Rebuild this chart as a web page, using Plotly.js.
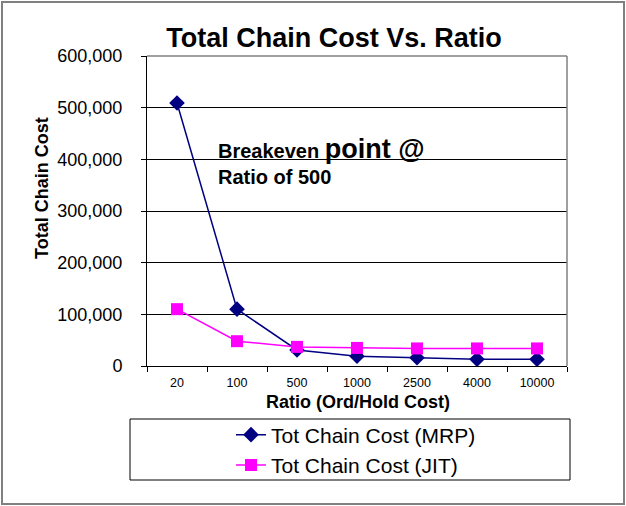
<!DOCTYPE html>
<html>
<head>
<meta charset="utf-8">
<script src="https://cdn.plot.ly/plotly-3.0.1.min.js"></script>
<style>
html,body{margin:0;padding:0;background:#fff;}
#wrap{position:absolute;left:1px;top:1px;width:624px;height:504px;box-sizing:border-box;border:2px solid #808080;}
#chart{position:absolute;left:0;top:0;width:626px;height:506px;}
</style>
</head>
<body>
<div id="chart"></div>
<div id="wrap"></div>
<script>
const categories = ["20", "100", "500", "1000", "2500", "4000", "10000"];
const mrpCost = [509000, 110000, 31000, 19000, 16000, 13000, 13000];
const jitCost = [110000, 48000, 37000, 35000, 34000, 34000, 34000];
const seriesNames = ["Tot Chain Cost (MRP)", "Tot Chain Cost (JIT)"];

const font = "Arial, 'Liberation Sans', sans-serif";

const traces = [
  {
    x: categories, y: mrpCost, name: seriesNames[0], type: "scatter", mode: "lines+markers",
    line: {color: "#000080", width: 1.5},
    marker: {symbol: "diamond", size: 12, color: "#000080"}
  },
  {
    x: categories, y: jitCost, name: seriesNames[1], type: "scatter", mode: "lines+markers",
    line: {color: "#FF00FF", width: 1.5},
    marker: {symbol: "square", size: 12, color: "#FF00FF"}
  }
];

const layout = {
  width: 626, height: 506,
  margin: {l: 147, r: 59, t: 56, b: 140},
  paper_bgcolor: "#fff", plot_bgcolor: "#fff",
  font: {family: font, color: "#000"},
  title: {text: "<b>Total Chain Cost Vs. Ratio</b>", font: {size: 27, family: font},
          x: 334/626, xanchor: "center", xref: "container", y: 1 - 38/506, yanchor: "middle", yref: "container"},
  xaxis: {
    type: "category", range: [-0.5, 6.5],
    tickson: "boundaries", ticks: "outside", ticklen: 5, tickcolor: "#000",
    showline: true, linecolor: "#000", linewidth: 1, mirror: false,
    showgrid: false, tickfont: {size: 12.5}, ticklabelstandoff: 5
  },
  yaxis: {
    range: [0, 600000], dtick: 100000, tickformat: ",d",
    ticks: "outside", ticklen: 5, tickcolor: "#000",
    showline: true, linecolor: "#000", linewidth: 1,
    gridcolor: "#000", gridwidth: 1, zeroline: false,
    tickfont: {size: 18}, ticklabelstandoff: 15
  },
  showlegend: true,
  legend: {
    x: 0.2, y: (366-450)/310, xanchor: "left", yanchor: "middle",
    font: {size: 21}, bgcolor: "rgba(0,0,0,0)", borderwidth: 0,
    tracegroupgap: 0, itemwidth: 30
  },
  shapes: [
    {type: "line", xref: "paper", yref: "paper", x0: 0, x1: 1, y0: 1, y1: 1, line: {color: "#808080", width: 1.5}},
    {type: "line", xref: "paper", yref: "paper", x0: 1, x1: 1, y0: 0, y1: 1, line: {color: "#808080", width: 1.5}},
    {type: "rect", xref: "paper", yref: "paper",
     x0: (130-147)/420, x1: (570-147)/420, y0: (366-480)/310, y1: (366-419)/310,
     line: {color: "#000", width: 1}, fillcolor: "rgba(0,0,0,0)"}
  ],
  annotations: [
    {xref: "paper", yref: "paper", x: (216-147)/420, y: (366-132)/310, xanchor: "left", yanchor: "top",
     align: "left", showarrow: false,
     text: "<b>Breakeven <span style='font-size:27px'>point @</span><br>Ratio of 500</b>",
     font: {size: 20}},
    {xref: "paper", yref: "paper", x: (358-147)/420, y: (366-402)/310, xanchor: "center", yanchor: "middle",
     showarrow: false, text: "<b>Ratio (Ord/Hold Cost)</b>", font: {size: 18}},
    {xref: "paper", yref: "paper", x: (42-147)/420, y: (366-188)/310, xanchor: "center", yanchor: "middle",
     showarrow: false, textangle: -90, text: "<b>Total Chain Cost</b>", font: {size: 18}}
  ]
};

Plotly.newPlot("chart", traces, layout, {displayModeBar: false, staticPlot: true});
</script>
</body>
</html>
